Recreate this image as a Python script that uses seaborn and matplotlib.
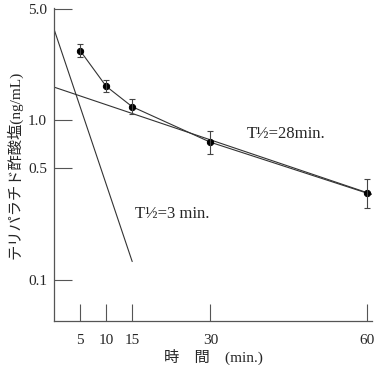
import numpy as np
import pandas as pd
import matplotlib
matplotlib.use('Agg')
import matplotlib.pyplot as plt
import seaborn as sns

# measured concentrations
time_min = [5, 10, 15, 30, 60]
conc = [2.75, 1.64, 1.22, 0.73, 0.35]
conc_lo = [2.50, 1.50, 1.10, 0.62, 0.28]
conc_hi = [3.00, 1.80, 1.36, 0.86, 0.43]

# fitted elimination lines (end points)
slow_t = [0, 62]
slow_c = [1.62, 0.335]
fast_t = [0, 15]
fast_c = [3.75, 0.13]

y_ticks = [0.1, 0.5, 1.0, 5.0]
y_tick_labels = ['0.1', '0.5', '1.0', '5.0']
x_ticks = [5, 10, 15, 30, 60]

sns.set_style('white')
plt.rcParams['font.family'] = ['Liberation Serif', 'Noto Sans CJK JP']

df = pd.DataFrame({'t': time_min, 'c': conc})

fig = plt.figure(figsize=(3.75, 3.65), dpi=100)
ax = fig.add_axes([0.144, 0.1205, 0.848, 0.857])

lc = '#333333'
sns.lineplot(x=slow_t, y=slow_c, ax=ax, color=lc, lw=0.8)
sns.lineplot(x=fast_t, y=fast_c, ax=ax, color=lc, lw=0.8)
sns.lineplot(data=df, x='t', y='c', ax=ax, color=lc, lw=0.8,
             marker='o', markersize=4.5, markerfacecolor='black',
             markeredgecolor='black')
err = [np.array(conc) - np.array(conc_lo), np.array(conc_hi) - np.array(conc)]
ax.errorbar(time_min, conc, yerr=err, fmt='none', ecolor='#444444',
            elinewidth=0.8, capsize=2.5, capthick=0.8)

ax.set_yscale('log')
ax.set_xlim(0, 61)
ax.set_ylim(0.055, 5.07)
ax.set_yticks(y_ticks)
ax.set_yticklabels(y_tick_labels)
ax.minorticks_off()
ax.set_xticks(x_ticks)
ax.tick_params(axis='y', left=True, direction='in', length=13, width=0.8,
               color='#555555', labelsize=11, pad=5)
ax.tick_params(axis='x', bottom=True, direction='in', length=12, width=0.8,
               color='#555555', labelsize=11, pad=9)

for s in ['top', 'right']:
    ax.spines[s].set_visible(False)
for s in ['left', 'bottom']:
    ax.spines[s].set_color('#555555')
    ax.spines[s].set_linewidth(0.9)

ax.set_ylabel('テリパラチド酢酸塩(ng/mL)', fontsize=11, labelpad=4)
ax.set_xlabel('時　間　(min.)', fontsize=11, labelpad=2)

ax.text(37, 0.82, 'T½=28min.', fontsize=12, ha='left', va='center')
ax.text(15.5, 0.26, 'T½=3 min.', fontsize=12, ha='left', va='center')

fig.savefig('out.png', dpi=100)
